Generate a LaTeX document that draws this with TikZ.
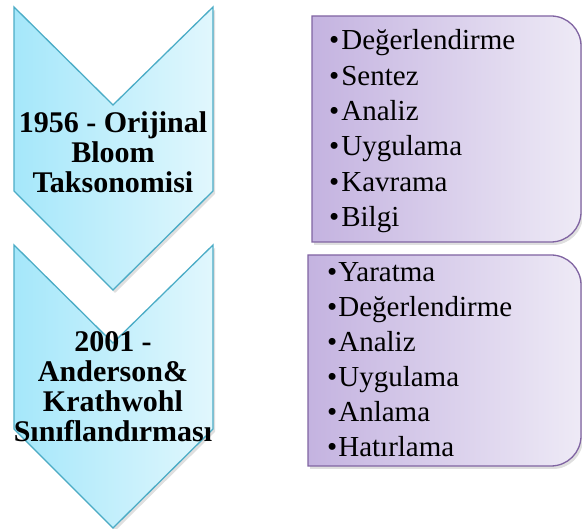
\documentclass[tikz,border=0pt]{standalone}
\usepackage{fontspec}
\setmainfont{Liberation Serif}
\usetikzlibrary{shadows}

\definecolor{chevleft}{HTML}{A5E7FA}
\definecolor{chevright}{HTML}{E1F7FD}
\definecolor{chevline}{HTML}{4BACC6}
\definecolor{boxleft}{HTML}{C4B3E0}
\definecolor{boxright}{HTML}{EEEAF6}
\definecolor{boxline}{HTML}{8064A2}

\begin{document}
\begin{tikzpicture}[x=1pt,y=1pt,
    chevron/.style={draw=chevline,line width=1.3pt,left color=chevleft,right color=chevright,
      drop shadow={opacity=0.25,shadow xshift=2pt,shadow yshift=-3pt}},
    listbox/.style={draw=boxline,line width=1.3pt,left color=boxleft,right color=boxright,
      drop shadow={opacity=0.25,shadow xshift=2pt,shadow yshift=-3pt}},
    steptext/.style={font=\bfseries\fontsize{30}{30}\selectfont,align=center,inner sep=0pt},
    listitem/.style={anchor=base west,font=\fontsize{29}{30}\selectfont,inner sep=0pt}]
  \useasboundingbox (0,0) rectangle (582,529);
  \foreach \y in {522,284}
	{
	\draw[chevron] (14,\y) -- (113,\y-98) -- (213,\y) -- (213,\y-184)
	  -- (113,\y-283) -- (14,\y-184) -- cycle;
	}
  \node[steptext] (old) at (113,377) {1956 - Orijinal\\Bloom\\Taksonomisi};
  \node[steptext] (new) at (113,142) {2001 -\\Anderson\&\\Krathwohl\\Sınıflandırması};

  \draw[listbox] (312,287) -- (312,513) -- (551,513) arc[start angle=90,end angle=0,radius=30]
    -- (581,317) arc[start angle=0,end angle=-90,radius=30] -- cycle;
  \draw[listbox] (308,63) -- (308,274) -- (551,274) arc[start angle=90,end angle=0,radius=30]
    -- (581,93) arc[start angle=0,end angle=-90,radius=30] -- cycle;

  \foreach \word [count=\i] in {Değerlendirme,Sentez,Analiz,Uygulama,Kavrama,Bilgi}
	{
	\node[listitem] (bloom\i) at (329,{479-35.3*(\i-1)}) {\textbullet\hspace{2pt}\word};
	}
  \foreach \word [count=\i] in {Yaratma,Değerlendirme,Analiz,Uygulama,Anlama,Hatırlama}
	{
	\node[listitem] (ak\i) at (327,{247-35*(\i-1)}) {\textbullet\hspace{1pt}\word};
	}
\end{tikzpicture}
\end{document}
